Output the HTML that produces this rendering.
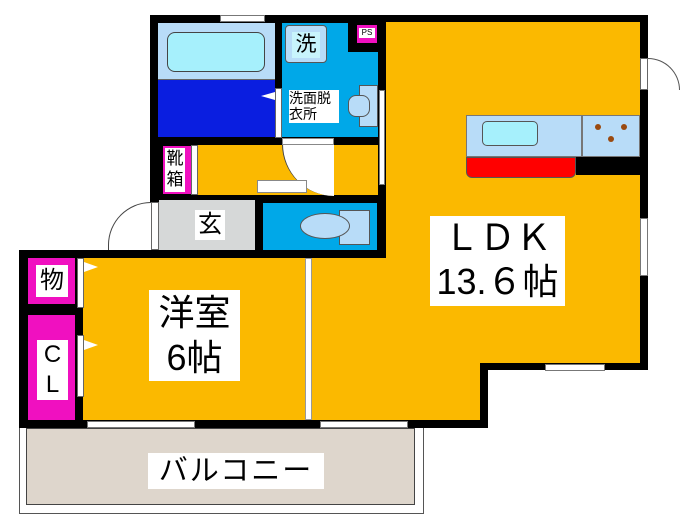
<!DOCTYPE html>
<html><head><meta charset="utf-8"><style>
body{margin:0;width:700px;height:525px;background:#fff;position:relative;overflow:hidden;font-family:"Liberation Sans","Noto Sans CJK JP",sans-serif}
div{position:absolute;box-sizing:border-box}
.k{background:#000}
.y{background:#fbb900}
.lbl{background:#fff;color:#000;text-align:center}
.win{background:#fff;border:1px solid #777}
.tri{width:0;height:0;border-top:5px solid transparent;border-bottom:5px solid transparent;border-left:14px solid #fff}
</style></head><body>
<!-- balcony -->
<div style="left:19px;top:426px;width:405px;height:88px;border:1px solid #555;background:#fff"></div>
<div style="left:26px;top:428px;width:389px;height:77px;border:1px solid #444;background:#ded6cc"></div>
<div class="lbl" style="left:148px;top:453px;width:176px;height:36px;font-size:29px;line-height:36px;letter-spacing:2px">バルコニー</div>

<!-- main black body -->
<div class="k" style="left:150px;top:15px;width:498px;height:243px"></div>
<div class="k" style="left:385px;top:15px;width:263px;height:355px"></div>
<div class="k" style="left:303px;top:250px;width:185px;height:178px"></div>
<div class="k" style="left:19px;top:250px;width:290px;height:178px"></div>

<!-- LDK -->
<div class="y" style="left:386px;top:22px;width:254px;height:341px"></div>
<div class="y" style="left:312px;top:258px;width:168px;height:162px"></div>
<!-- kitchen -->
<div style="left:466px;top:115px;width:116px;height:42px;background:#b8dcf8;border:1px solid #777"></div>
<div style="left:482px;top:121px;width:56px;height:25px;background:#a6f0fc;border:1px solid #555;border-radius:5px"></div>
<div style="left:582px;top:115px;width:58px;height:42px;background:#b8dcf8;border:1px solid #777"></div>
<div style="left:595px;top:124px;width:6px;height:6px;border-radius:50%;background:#9a4a10"></div>
<div style="left:621px;top:124px;width:6px;height:6px;border-radius:50%;background:#9a4a10"></div>
<div style="left:608px;top:136px;width:6px;height:6px;border-radius:50%;background:#9a4a10"></div>
<div style="left:466px;top:157px;width:110px;height:21px;background:#f00;border:1px solid #555;border-radius:0 0 6px 6px"></div>
<div class="k" style="left:576px;top:157px;width:72px;height:18px"></div>
<div class="lbl" style="left:430px;top:216px;width:135px;height:90px;font-size:36px;line-height:44px">ＬＤＫ<br>13.６帖</div>
<!-- right door -->
<div style="left:640px;top:58px;width:8px;height:32px;background:#fff;border:1px solid #666"></div>
<div style="left:648px;top:58px;width:32px;height:32px;border-top:1px solid #555;border-right:1px solid #555;border-radius:0 32px 0 0;background:#fff"></div>
<!-- windows -->
<div class="win" style="left:640px;top:218px;width:8px;height:58px"></div>
<div class="win" style="left:545px;top:364px;width:60px;height:7px"></div>
<div class="win" style="left:320px;top:421px;width:88px;height:7px"></div>
<div class="win" style="left:87px;top:421px;width:108px;height:7px"></div>
<div class="win" style="left:220px;top:15px;width:45px;height:7px"></div>
<div class="win" style="left:379px;top:90px;width:6px;height:95px"></div>

<!-- bath -->
<div style="left:158px;top:23px;width:117px;height:57px;background:#b8dcf8;border-bottom:1px solid #666"></div>
<div style="left:167px;top:32px;width:98px;height:40px;background:#a6f0fc;border:1px solid #444;border-radius:8px"></div>
<div style="left:158px;top:80px;width:117px;height:57px;background:#0a1ee0"></div>
<div style="left:275px;top:88px;width:7px;height:50px;background:#fff;border:1px solid #666"></div>
<div style="left:261px;top:92px;width:0;height:0;border-top:4px solid transparent;border-bottom:4px solid transparent;border-right:14px solid #fff"></div>
<!-- washroom -->
<div style="left:282px;top:23px;width:96px;height:114px;background:#00a8e8"></div>
<div class="k" style="left:348px;top:23px;width:30px;height:29px"></div>
<div style="left:357px;top:25px;width:20px;height:18px;background:#f010c0"></div>
<div style="left:359px;top:28px;width:16px;height:10px;background:#fff;font-size:8px;line-height:10px;text-align:center">PS</div>
<div style="left:285px;top:25px;width:42px;height:38px;background:#b8dcf8;border:1px solid #555;border-radius:4px"></div>
<div class="lbl" style="left:292px;top:32px;width:28px;height:26px;font-size:21px;line-height:26px;background:#c8f4fc">洗</div>
<div class="lbl" style="left:289px;top:90px;width:50px;height:33px;font-size:14px;line-height:16px;text-align:left">洗面脱<br>衣所</div>
<div style="left:359px;top:85px;width:19px;height:42px;background:#b8dcf8;border:1px solid #555"></div>
<div style="left:348px;top:95px;width:22px;height:22px;background:#b8dcf8;border:1px solid #555;border-radius:8px"></div>
<!-- hallway -->
<div class="y" style="left:198px;top:145px;width:180px;height:50px"></div>
<div style="left:282px;top:138px;width:52px;height:58px;background:#fff;border-radius:0 0 0 52px;border-left:1px solid #444"></div>
<div style="left:282px;top:138px;width:52px;height:7px;background:#fff;border:1px solid #888"></div>
<div style="left:257px;top:180px;width:50px;height:13px;background:#fff;border:1px solid #888"></div>
<!-- shoe box -->
<div style="left:163px;top:146px;width:28px;height:48px;background:#f010c0"></div>
<div class="lbl" style="left:165px;top:148px;width:20px;height:44px;font-size:17px;line-height:21px">靴<br>箱</div>
<div style="left:191px;top:145px;width:7px;height:50px;background:#fff;border:1px solid #666"></div>
<!-- genkan -->
<div style="left:159px;top:200px;width:96px;height:50px;background:#d6d8d8"></div>
<div class="lbl" style="left:195px;top:210px;width:30px;height:30px;font-size:24px;line-height:30px">玄</div>
<div style="left:151px;top:202px;width:8px;height:48px;background:#fff;border:1px solid #666"></div>
<div style="left:108px;top:202px;width:43px;height:48px;border-top:1px solid #444;border-left:1px solid #444;border-radius:43px 0 0 0;background:#fff"></div>
<!-- toilet -->
<div style="left:263px;top:203px;width:114px;height:47px;background:#00a8e8"></div>
<div style="left:339px;top:210px;width:31px;height:35px;background:#b8dcf8;border:1px solid #555"></div>
<div style="left:300px;top:213px;width:50px;height:26px;background:#b8dcf8;border:1px solid #555;border-radius:50%"></div>

<!-- western room -->
<div class="y" style="left:83px;top:258px;width:222px;height:162px"></div>
<div class="win" style="left:305px;top:258px;width:7px;height:162px;border-color:#999"></div>
<div class="lbl" style="left:149px;top:290px;width:91px;height:91px;font-size:36px;line-height:45px">洋室<br>6帖</div>
<div style="left:28px;top:258px;width:47px;height:46px;background:#f010c0"></div>
<div class="lbl" style="left:36px;top:265px;width:32px;height:32px;font-size:24px;line-height:32px">物</div>
<div style="left:28px;top:315px;width:47px;height:105px;background:#f010c0"></div>
<div class="lbl" style="left:37px;top:340px;width:31px;height:60px;font-size:24px;line-height:30px">C<br>L</div>
<div style="left:77px;top:258px;width:7px;height:50px;background:#fff;border:1px solid #666"></div>
<div style="left:77px;top:335px;width:7px;height:62px;background:#fff;border:1px solid #666"></div>
<div class="tri" style="left:84px;top:262px"></div>
<div class="tri" style="left:84px;top:340px"></div>
</body></html>
